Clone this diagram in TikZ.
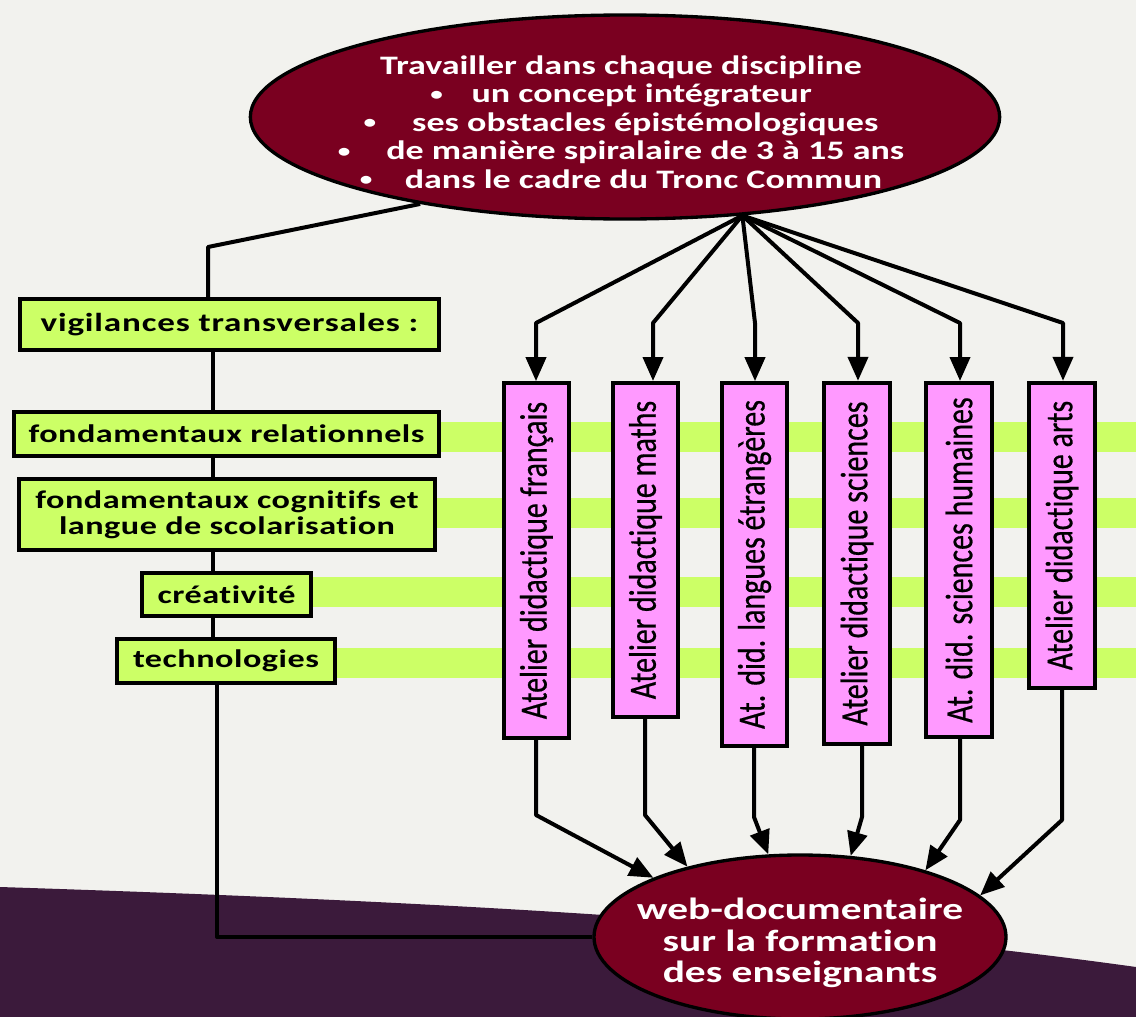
\documentclass[tikz,border=0pt]{standalone}
\usepackage{fontspec}
\setmainfont{Carlito}[Ligatures=NoCommon]
\usepackage{graphicx}
\usetikzlibrary{arrows.meta,shapes.geometric,calc}
\definecolor{bgc}{RGB}{242,242,238}
\definecolor{plum}{RGB}{59,26,59}
\definecolor{wine}{RGB}{122,0,32}
\definecolor{lime}{RGB}{204,255,102}
\definecolor{pinkb}{RGB}{255,153,255}
\newcommand\hsx[1]{\scalebox{1.35}[1]{#1}}
\newcommand\vsx[1]{\rotatebox{90}{\scalebox{1}[1.28]{#1}}}
\newcommand\bul{\raisebox{0.1em}{\scalebox{0.7}{•}}}
\begin{document}
\begin{tikzpicture}[x=0.75pt,y=-0.75pt,
  conn/.style={line width=3pt, line join=round},
  arr/.style={conn, -{Triangle[length=18pt,width=15pt]}},
  lbox/.style={draw, line width=3pt, fill=lime, inner sep=0pt, align=center,
    font=\bfseries\fontsize{19}{19.5}\selectfont\addfontfeature{LetterSpace=1.5}},
  atel/.style={draw, line width=3pt, fill=pinkb, inner sep=0pt,
    minimum width=49pt, font=\fontsize{22.5}{24}\selectfont\addfontfeature{FakeBold=0.6}},
  oval/.style={ellipse, draw, line width=2.5pt, fill=wine, inner sep=0pt},
  ovaltext/.style={text=white, inner sep=0pt, align=center}
]
\useasboundingbox (0,0) rectangle (1136,1017);
\fill[bgc] (0,0) rectangle (1136,1017);
\fill[plum] (0,887) .. controls (400,900) and (800,920) .. (1136,967)
  -- (1136,1030) -- (0,1030) -- cycle;
% bands
\fill[lime] (400,422) rectangle (1136,452);
\fill[lime] (400,498) rectangle (1136,528);
\fill[lime] (280,577) rectangle (1136,607);
\fill[lime] (300,648) rectangle (1136,678);

% top ellipse
\node[oval, minimum width=562pt, minimum height=153pt] (top) at (625,117) {};
\node[ovaltext, font=\bfseries\fontsize{20}{21.4}\selectfont] (toptext) at (621,122) {%
  \hsx{Travailler dans chaque discipline}\\
  \hsx{\bul\hspace{0.8em}un concept intégrateur}\\
  \hsx{\bul\hspace{1em}ses obstacles épistémologiques}\\
  \hsx{\bul\hspace{1em}de manière spiralaire de 3 à 15 ans}\\
  \hsx{\bul\hspace{0.9em}dans le cadre du Tronc Commun}};

% bottom ellipse
\node[oval, minimum width=309pt, minimum height=123pt] (web) at (800,937) {};
\node[ovaltext, font=\bfseries\fontsize{23}{23.5}\selectfont] (webtext) at (800,943) {%
  \hsx{web-documentaire}\\
  \hsx{sur la formation}\\
  \hsx{des enseignants}};

% left boxes
\node[lbox, minimum width=314pt, minimum height=38pt, font=\bfseries\fontsize{19.5}{20}\selectfont\addfontfeature{LetterSpace=2.4}] (v) at (229.5,324.5) {\hsx{vigilances transversales :}};
\node[lbox, minimum width=319pt, minimum height=33pt] (r) at (226.5,434) {\hsx{fondamentaux relationnels}};
\node[lbox, minimum width=312pt, minimum height=53pt] (c) at (227,514.5) {\hsx{fondamentaux cognitifs et}\\\hsx{langue de scolarisation}};
\node[lbox, minimum width=127pt, minimum height=32pt] (cr) at (226.5,594.5) {\hsx{créativité}};
\node[lbox, minimum width=163.5pt, minimum height=33pt] (t) at (226,661) {\hsx{technologies}};

% ateliers
\node[atel, minimum height=266pt] (b1) at (536.5,560.5) {\vsx{Atelier didactique français}};
\node[atel, minimum height=250.5pt] (b2) at (645.5,550) {\vsx{Atelier didactique maths}};
\node[atel, minimum height=272pt] (b3) at (754.5,564.5) {\vsx{At. did. langues étrangères}};
\node[atel, minimum height=271pt] (b4) at (857,563.5) {\vsx{Atelier didactique sciences}};
\node[atel, minimum height=265.5pt] (b5) at (959,560) {\vsx{At. did. sciences humaines}};
\node[atel, minimum height=229pt] (b6) at (1062,535.5) {\vsx{Atelier didactique arts}};

% coordinates
\coordinate (elbow) at (208,247);
\coordinate (sp) at (213,0);
\coordinate (sp2) at (217,0);
\coordinate (k1) at (536,323);
\coordinate (k2) at (653,323);
\coordinate (k3) at (755,323);
\coordinate (k4) at (858,323);
\coordinate (k5) at (960,323);
\coordinate (k6) at (1063,323);
\coordinate (m1) at (536,815);
\coordinate (m2) at (645,815);
\coordinate (m3) at (754,817);
\coordinate (m4) at (862,817);
\coordinate (m5) at (960,820);
\coordinate (m6) at (1062,820);

% left connectors
\draw[conn] (top.203) -- (elbow) -- (elbow |- v.north);
\draw[conn] (v.south -| sp) -- (r.north -| sp);
\draw[conn] (r.south -| sp) -- (c.north -| sp);
\draw[conn] (c.south -| sp) -- (cr.north -| sp);
\draw[conn] (cr.south -| sp) -- (t.north -| sp);
\draw[conn] (t.south -| sp2) -- (sp2 |- web.west) -- (web.west);

% top arrows
\draw[arr] (top.320) -- (k1) -- (k1 |- b1.north);
\draw[arr] (top.320) -- (k2) -- (k2 |- b2.north);
\draw[arr] (top.320) -- (k3) -- (k3 |- b3.north);
\draw[arr] (top.320) -- (k4) -- (k4 |- b4.north);
\draw[arr] (top.320) -- (k5) -- (k5 |- b5.north);
\draw[arr] (top.320) -- (k6) -- (k6 |- b6.north);

% bottom arrows
\draw[arr] (m1 |- b1.south) -- (m1) -- (web.158.6);
\draw[arr] (m2 |- b2.south) -- (m2) -- (web.148);
\draw[arr] (m3 |- b3.south) -- (m3) -- (web.111.4);
\draw[arr] (m4 |- b4.south) -- (m4) -- (web.58.2);
\draw[arr] (m5 |- b5.south) -- (m5) -- (web.28.4);
\draw[arr] (m6 |- b6.south) -- (m6) -- (web.13.9);
\end{tikzpicture}
\end{document}
